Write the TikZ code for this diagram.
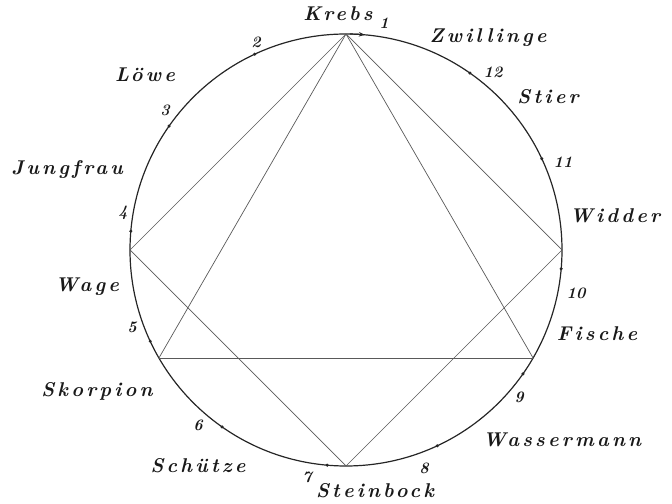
\documentclass[tikz,border=0pt]{standalone}
\usepackage{fontspec}
\newfontfamily\zodfont{lmroman10-bolditalic.otf}[LetterSpace=16]
\newfontfamily\zodnum{lmroman10-bolditalic.otf}
\usetikzlibrary{arrows.meta}
\begin{document}
\begin{tikzpicture}[x=1bp,y=1bp,
  lab/.style={font=\fontsize{20}{20}\zodfont, inner sep=0pt, text=black!90},
  num/.style={font=\fontsize{16}{16}\zodnum, inner sep=0pt, text=black!90},
  rim/.style={line width=1.2bp, draw=black!85},
  chord/.style={line width=0.7bp, draw=black!65},
  tick/.style={fill=black!85, draw=none, circle, inner sep=0pt, minimum size=3.4bp}]
\useasboundingbox (0,0) rectangle (672,504);
\coordinate (C) at (346,254);
\draw[rim] (C) circle (216);
% vertices
\path (C) ++(90:216)  coordinate (krebs)
      (C) ++(180:216) coordinate (wage)
      (C) ++(270:216) coordinate (steinbock)
      (C) ++(0:216)   coordinate (widder)
      (C) ++(210:216) coordinate (skorpion)
      (C) ++(330:216) coordinate (fische);
% chords
\draw[chord] (krebs) -- (wage);
\draw[chord] (krebs) -- (skorpion);
\draw[chord] (krebs) -- (fische);
\draw[chord] (krebs) -- (widder);
\draw[chord] (skorpion) -- (fische);
\draw[chord] (wage) -- (steinbock);
\draw[chord] (steinbock) -- (widder);
% marks
\draw[rim, -{Stealth[length=6bp,width=4.5bp]}] (C) ++(89:216) arc (89:85:216);
\foreach \k in {2,...,12}{
  \node[tick] (m\k) at ([shift={(55+30*\k:216)}]C) {};
}
% numbers
\node[num] (n1) at (384,481) {1};
\node[num] (n2) at (256,462) {2};
\node[num] (n3) at (165,394) {3};
\node[num] (n4) at (123,291) {4};
\node[num] (n5) at (132,177) {5};
\node[num] (n6) at (198,79) {6};
\node[num] (n7) at (307,27) {7};
\node[num] (n8) at (424,36) {8};
\node[num] (n9) at (519,107) {9};
\node[num] (n10) at (576,211) {10};
\node[num] (n11) at (563,342) {11};
\node[num] (n12) at (493,432) {12};
% names
\node[lab] (lkrebs) at (338,490) {Krebs};
\node[lab] (lzw) at (488,466) {Zwillinge};
\node[lab] (lloewe) at (145,429) {Löwe};
\node[lab] (ljung) at (67,334) {Jungfrau};
\node[lab] (lwage) at (87,217) {Wage};
\node[lab] (lskorp) at (97,113) {Skorpion};
\node[lab] (lschue) at (198,38) {Schütze};
\node[lab] (lstein) at (375,13) {Steinbock};
\node[lab] (lwass) at (562,64) {Wassermann};
\node[lab] (lfisch) at (597,170) {Fische};
\node[lab] (lwidd) at (615,288) {Widder};
\node[lab] (lstier) at (548,407) {Stier};
\end{tikzpicture}
\end{document}
